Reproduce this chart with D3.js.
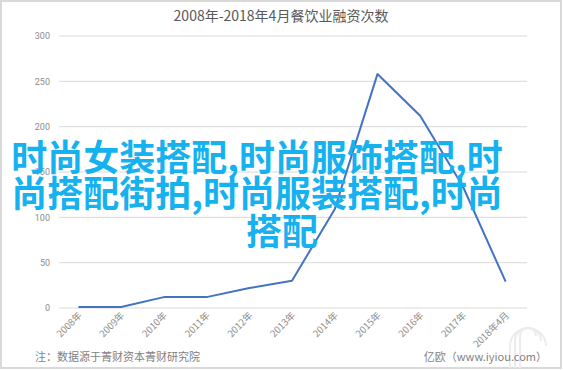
<!DOCTYPE html>
<html>
<head>
<meta charset="utf-8">
<script src="https://cdn.jsdelivr.net/npm/d3@7"></script>
<style>
  body { margin: 0; background: #fff; }
  text { font-family: "Noto Sans CJK SC", "Noto Sans", sans-serif; }
</style>
</head>
<body>
<div id="chart"></div>
<script>
var years = ["2008年", "2009年", "2010年", "2011年", "2012年", "2013年", "2014年", "2015年", "2016年", "2017年", "2018年4月"];
var counts = [1, 1, 12, 12, 22, 30, 109, 258, 212, 134, 29];
var yTicks = [0, 50, 100, 150, 200, 250, 300];
var overlayLines = ["时尚女装搭配,时尚服饰搭配,时", "尚搭配街拍,时尚服装搭配,时尚", "搭配"];

function draw()
{
  var width = 563, height = 370;

  var svg = d3.select("#chart")
    .append("svg")
    .attr("width", width)
    .attr("height", height);

  // outer frame
  svg.append("rect")
    .attr("x", 1)
    .attr("y", 1)
    .attr("width", width - 3)
    .attr("height", height - 3)
    .style("fill", "white")
    .style("stroke", "#d9d9d9")
    .style("stroke-width", "2");

  // faint logo, bottom right
  var logo = svg.append("g")
    .attr("transform", "translate(528, 368)")
    .style("fill", "none")
    .style("stroke", "#ececec")
    .style("stroke-width", "2");
  [8, 13, 18].forEach(function(r) {
    logo.append("path")
      .attr("d", "M" + (-r) + ",0 V" + (-40 + r) + " A" + r + "," + r + " 0 0 1 " + r + "," + (-40 + r));
  });

  var xScale = d3.scalePoint()
    .domain(years)
    .range([57, 527])
    .padding(0.5);

  var yScale = d3.scaleLinear()
    .domain([0, 300])
    .range([308, 36]);

  // gridlines
  svg.append("g")
    .selectAll("line")
    .data(yTicks)
    .enter()
    .append("line")
      .attr("x1", 59)
      .attr("x2", 527)
      .attr("y1", function(d) {return yScale(d);})
      .attr("y2", function(d) {return yScale(d);})
      .style("stroke", "#d9d9d9")
      .style("stroke-width", "1");

  // y labels
  var yAxis = d3.axisLeft(yScale)
    .tickValues(yTicks)
    .tickSize(0)
    .tickPadding(0);

  var gy = svg.append("g")
    .attr("transform", "translate(50, 0)")
    .call(yAxis);
  gy.select(".domain").remove();
  gy.selectAll("text")
    .style("font-family", "Roboto, 'Noto Sans', sans-serif")
    .style("font-size", "9px")
    .style("fill", "#8c8c8c");

  // x labels
  svg.append("g")
    .selectAll("text")
    .data(years)
    .enter()
    .append("text")
      .attr("transform", function(d) {return "translate(" + (xScale(d) + 4) + ", 316) rotate(-45)";})
      .style("text-anchor", "end")
      .style("font-size", "9.5px")
      .style("fill", "#8c8c8c")
      .text(function(d) {return d;});

  // the line
  var line = d3.line()
    .x(function(d, i) {return xScale(years[i]);})
    .y(function(d) {return yScale(d);});

  svg.append("path")
    .datum(counts)
    .attr("d", line)
    .style("fill", "none")
    .style("stroke", "#4472c4")
    .style("stroke-width", "2")
    .style("stroke-linejoin", "round");

  // title
  svg.append("text")
    .attr("x", 281)
    .attr("y", 21)
    .style("text-anchor", "middle")
    .style("font-size", "14px")
    .style("fill", "#595959")
    .text("2008年-2018年4月餐饮业融资次数");

  // footer
  svg.append("text")
    .attr("x", 35)
    .attr("y", 361)
    .style("font-size", "11px")
    .style("fill", "#7f7f7f")
    .text("注：数据源于菁财资本菁财研究院");

  svg.append("text")
    .attr("x", 547)
    .attr("y", 361)
    .style("text-anchor", "end")
    .style("font-size", "11px")
    .style("fill", "#7f7f7f")
    .text("亿欧（www.iyiou.com）");

  // overlay text
  var overlayX = [257, 257, 282];
  var overlayY = [171, 207, 245];
  svg.append("g")
    .selectAll("text")
    .data(overlayLines)
    .enter()
    .append("text")
      .attr("x", function(d, i) {return overlayX[i];})
      .attr("y", function(d, i) {return overlayY[i];})
      .style("text-anchor", "middle")
      .style("font-size", "36px")
      .style("font-weight", "bold")
      .style("fill", "#16b1ef")
      .text(function(d) {return d;});
}

window.onload = draw;
</script>
</body>
</html>
